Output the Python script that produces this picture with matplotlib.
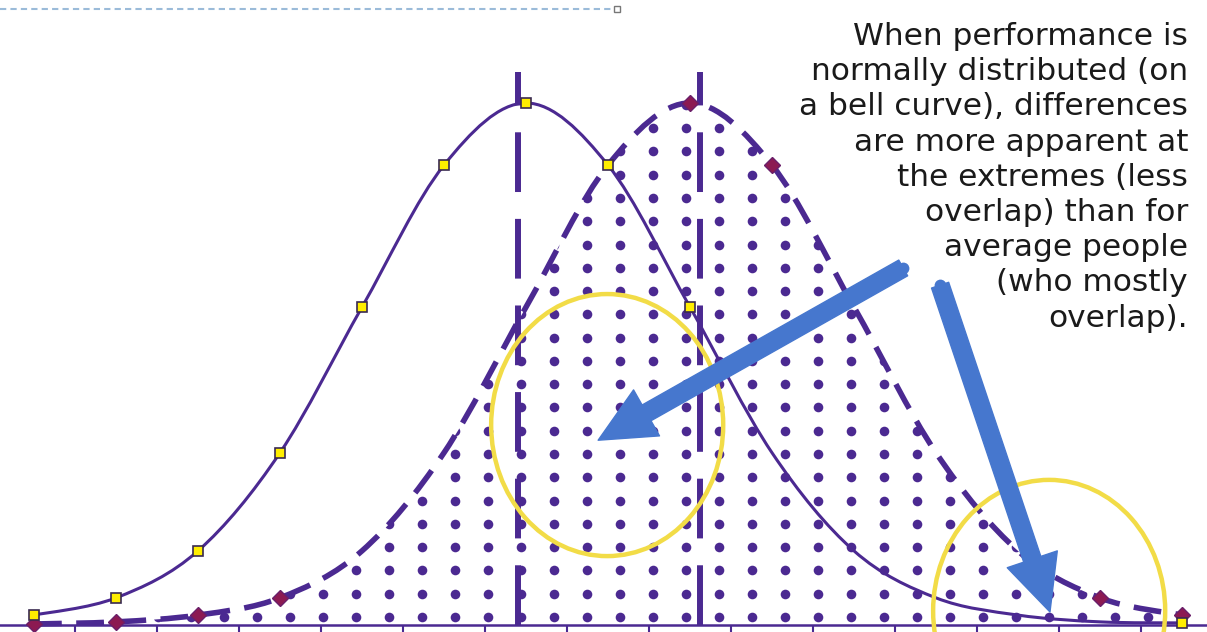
import numpy as np
import matplotlib
matplotlib.use('Agg')
import matplotlib.pyplot as plt
from matplotlib.path import Path
from matplotlib.patches import PathPatch, Ellipse

# category slots (half a standard deviation apart)
slots = np.arange(15)
group_a = [0.019, 0.052, 0.142, 0.330, 0.609, 0.881, 1.000, 0.881, 0.609,
           0.330, 0.142, 0.052, 0.019, 0.006, 0.004]
group_b = [0.002, 0.006, 0.019, 0.052, 0.142, 0.330, 0.609, 0.881, 1.000,
           0.881, 0.609, 0.330, 0.142, 0.052, 0.019]
marks_a = [0, 1, 2, 3, 4, 5, 6, 7, 8, 14]
marks_b = [0, 1, 2, 3, 8, 9, 13, 14]
mean_lines = [5.90, 8.12]

# highlight circles: (x, y, width, height)
circles = [(6.99, 0.383, 2.83, 0.502), (12.38, 0.027, 2.83, 0.502)]
# arrows: (tail, tip)
arrows = [((10.60, 0.684), (6.88, 0.354)), ((11.05, 0.651), (12.39, 0.025))]

note = ("When performance is\nnormally distributed (on\na bell curve), differences\n"
        "are more apparent at\nthe extremes (less\noverlap) than for\n"
        "average people\n(who mostly\noverlap).")

purple = '#4b2991'
yellow = '#f2dc47'
blue = '#4677ce'


def smooth(x, y):
    # excel style smoothed line, drawn as bezier segments through the points
    x = np.asarray(x, float)
    y = np.asarray(y, float)
    verts = [(x[0], y[0])]
    codes = [Path.MOVETO]
    n = len(x)
    for i in range(n - 1):
        i0 = max(i - 1, 0)
        i3 = min(i + 2, n - 1)
        c1 = (x[i] + (x[i + 1] - x[i0]) / 6, y[i] + (y[i + 1] - y[i0]) / 6)
        c2 = (x[i + 1] - (x[i3] - x[i]) / 6, y[i + 1] - (y[i3] - y[i]) / 6)
        verts += [c1, c2, (x[i + 1], y[i + 1])]
        codes += [Path.CURVE4] * 3
    return verts, codes


fig = plt.figure(figsize=(12.07, 6.32), dpi=100)
ax = fig.add_axes([0, 0, 1, 1])
ax.set_xlim(-34 / 82, (1207 - 34) / 82)
ax.set_ylim(-7 / 522, 625 / 522)

# dotted fill under group b
vb, cb = smooth(slots, group_b)
area = Path(vb + [(slots[-1], 0), (slots[0], 0), (slots[0], 0)],
            cb + [Path.LINETO, Path.LINETO, Path.CLOSEPOLY])
area_patch = PathPatch(area, transform=ax.transData, fc='none', ec='none')
ax.add_patch(area_patch)
gx, gy = np.meshgrid(np.arange(6.744 - 0.4024 * 14, 14.5, 0.4024),
                     np.arange(0.0153, 1.05, 0.0446))
dots = ax.scatter(gx.ravel(), gy.ravel(), s=48, color=purple, lw=0, zorder=2)
dots.set_clip_path(area_patch)

# group b dashed curve
ax.add_patch(PathPatch(Path(vb, cb), fill=False, ec=purple, lw=4,
                       linestyle=(0, (5, 2.6)), zorder=3))
ax.plot(slots, group_b, ls='none', marker='D', ms=8, mfc='#8c1a52',
        mec='#6a1f6a', mew=1, markevery=marks_b, zorder=4)

# group a solid curve
va, ca = smooth(slots, group_a)
ax.add_patch(PathPatch(Path(va, ca), fill=False, ec=purple, lw=2.2, zorder=3))
ax.plot(slots, group_a, ls='none', marker='s', ms=7, mfc='#ffee00',
        mec='#3a2a50', mew=1.2, markevery=marks_a, zorder=5)

# mean lines
for m in mean_lines:
    ax.plot([m, m], [0, 1.059], color=purple, lw=4.3,
            dashes=(10, 4.5), zorder=3)

# category axis
ax.spines[['top', 'right', 'left']].set_visible(False)
ax.spines['bottom'].set_position(('data', 0))
ax.spines['bottom'].set_color(purple)
ax.spines['bottom'].set_linewidth(1.8)
ax.spines['bottom'].set_zorder(3)
ax.set_xticks(np.arange(0.5, 14, 1))
ax.set_yticks([])
ax.tick_params(axis='x', direction='out', length=7, width=1.5,
               color=purple, labelbottom=False)

for cx, cy, w, h in circles:
    ax.add_patch(Ellipse((cx, cy), w, h, fill=False, ec=yellow, lw=3.2,
                         zorder=6, clip_on=False))

for tail, tip in arrows:
    ax.annotate('', xy=tip, xytext=tail, zorder=7,
                arrowprops=dict(arrowstyle='simple,head_length=2.0,head_width=1.9,tail_width=0.65',
                                mutation_scale=20, color=blue, shrinkA=0, shrinkB=0))
    ax.plot([tail[0]], [tail[1]], marker='o', ms=8.5, color=blue, mew=0, zorder=7)

fig.text(1188 / 1207, 1 - 22 / 632, note, ha='right', va='top',
         fontsize=22.5, color='#1a1a1a', linespacing=1.27)

# selection frame remnant at the top
ax.plot([0, 615 / 1207], [1 - 8.5 / 632] * 2, transform=ax.transAxes,
        color='#9bbbd9', lw=1.5, dashes=(3, 2), clip_on=False)
ax.plot([617 / 1207], [1 - 9 / 632], transform=ax.transAxes, marker='s',
        ms=5, mfc='white', mec='#777777', mew=1, clip_on=False)

fig.savefig('out.png', dpi=100)
